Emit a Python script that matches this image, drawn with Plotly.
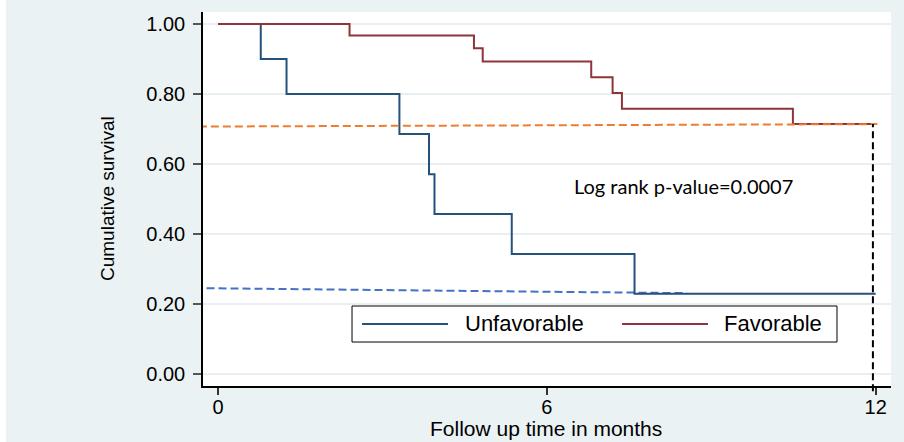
import plotly.graph_objects as go

# ---- data ----
time_unfav = [0, 0.78, 1.25, 3.31, 3.85, 3.95, 5.36, 7.60, 12.0]
surv_unfav = [1.0, 0.90, 0.80, 0.686, 0.571, 0.457, 0.343, 0.229, 0.229]
time_fav = [0, 2.40, 4.67, 4.83, 6.81, 7.20, 7.37, 10.49, 12.02]
surv_fav = [1.0, 0.967, 0.931, 0.893, 0.848, 0.803, 0.758, 0.714, 0.714]

ref_fav_x = [-0.35, 12.03]
ref_fav_y = [0.707, 0.714]
ref_unfav_x = [-0.21, 8.55]
ref_unfav_y = [0.245, 0.231]
cut_time = 11.95
cut_surv = 0.714

series_names = ["Unfavorable", "Favorable"]
series_colors = ["#24527c", "#8e353b"]
x_ticks = [0, 6, 12]
y_ticks = [0.0, 0.2, 0.4, 0.6, 0.8, 1.0]
y_tick_text = [f"{v:.2f}" for v in y_ticks]
annotation_text = "Log rank p-value=0.0007"
x_title = "Follow up time in months"
y_title = "Cumulative survival"

x_range = [-0.274, 12.28]
y_range = [-0.0343, 1.0343]

BG = "#eaf2f3"
GRID = "#e8eff2"
FONT = "Liberation Sans, Arial, sans-serif"

fig = go.Figure()

fig.add_trace(go.Scatter(x=ref_unfav_x, y=ref_unfav_y, mode="lines",
                         line=dict(color="#4472c4", width=2, dash="8px,4px"),
                         showlegend=False, hoverinfo="skip"))
fig.add_trace(go.Scatter(x=time_unfav, y=surv_unfav, mode="lines", line_shape="hv",
                         line=dict(color=series_colors[0], width=2),
                         name=series_names[0], showlegend=False))
fig.add_trace(go.Scatter(x=time_fav, y=surv_fav, mode="lines", line_shape="hv",
                         line=dict(color=series_colors[1], width=2),
                         name=series_names[1], showlegend=False))
fig.add_trace(go.Scatter(x=ref_fav_x, y=ref_fav_y, mode="lines",
                         line=dict(color="#ed7d31", width=2, dash="8px,4px"),
                         showlegend=False, hoverinfo="skip"))

def to_paper_y(v):
    return (v - y_range[0]) / (y_range[1] - y_range[0])

shapes = []
# vertical dashed line at end of follow-up
shapes.append(dict(type="line", xref="x", yref="paper", x0=cut_time, x1=cut_time,
                   y0=-0.014, y1=to_paper_y(cut_surv),
                   line=dict(color="black", width=2, dash="7px,4px"), layer="above"))
# white box behind the annotation (hides gridlines)
shapes.append(dict(type="rect", xref="paper", yref="paper", x0=0.503, x1=0.886,
                   y0=0.38, y1=0.66, fillcolor="white", line=dict(width=0),
                   layer="between"))
# manual legend
shapes.append(dict(type="rect", xref="paper", yref="paper", x0=0.2166, x1=0.9215,
                   y0=0.1176, y1=0.2139, fillcolor="white",
                   line=dict(color="black", width=1), layer="above"))
shapes.append(dict(type="line", xref="paper", yref="paper", x0=0.2311, x1=0.3561,
                   y0=0.1658, y1=0.1658, line=dict(color=series_colors[0], width=2),
                   layer="above"))
shapes.append(dict(type="line", xref="paper", yref="paper", x0=0.6090, x1=0.7340,
                   y0=0.1658, y1=0.1658, line=dict(color=series_colors[1], width=2),
                   layer="above"))
# white strips outside the graph region
shapes.append(dict(type="rect", xref="paper", yref="paper", x0=-0.40, x1=1.05,
                   y0=1.032, y1=1.06, fillcolor="white", line=dict(width=0), layer="above"))
shapes.append(dict(type="rect", xref="paper", yref="paper", x0=-0.40, x1=-0.2865,
                   y0=-0.2, y1=1.06, fillcolor="white", line=dict(width=0), layer="above"))

annotations = [
    dict(x=6.46, y=0.537, xref="x", yref="y", text=annotation_text, showarrow=False,
         xanchor="left", yanchor="middle",
         font=dict(family="Lato, Carlito, sans-serif", size=20, color="black")),
    dict(x=0.3779, y=0.1658, xref="paper", yref="paper", text=series_names[0],
         showarrow=False, xanchor="left", yanchor="middle",
         font=dict(family=FONT, size=22, color="black")),
    dict(x=0.7544, y=0.1658, xref="paper", yref="paper", text=series_names[1],
         showarrow=False, xanchor="left", yanchor="middle",
         font=dict(family=FONT, size=22, color="black")),
    dict(x=-0.1395, y=0.5, xref="paper", yref="paper", text=y_title, showarrow=False,
         textangle=-90, xanchor="center", yanchor="middle",
         font=dict(family=FONT, size=19, color="black")),
    dict(x=0.4985, y=-0.1135, xref="paper", yref="paper", text=x_title, showarrow=False,
         xanchor="center", yanchor="middle",
         font=dict(family=FONT, size=21, color="black")),
]

fig.update_layout(
    width=904, height=442,
    margin=dict(l=203, r=13, t=12, b=56),
    paper_bgcolor=BG, plot_bgcolor="white",
    font=dict(family=FONT, color="black"),
    shapes=shapes, annotations=annotations,
    showlegend=False,
)
fig.update_xaxes(range=x_range, tickvals=x_ticks, ticks="outside", ticklen=7,
                 tickwidth=2, tickcolor="#333", showgrid=False, zeroline=False,
                 showline=True, linecolor="black", linewidth=1.5,
                 tickfont=dict(size=20, color="black"), ticklabelstandoff=-5)
fig.update_yaxes(range=y_range, tickvals=y_ticks, ticktext=y_tick_text,
                 ticks="outside", ticklen=8, tickwidth=2, tickcolor="#555",
                 showgrid=True, gridcolor=GRID, gridwidth=2, zeroline=False,
                 showline=True, linecolor="black", linewidth=1.5,
                 tickfont=dict(size=20, color="black"), ticklabelstandoff=4)

fig.write_html("out.html")
